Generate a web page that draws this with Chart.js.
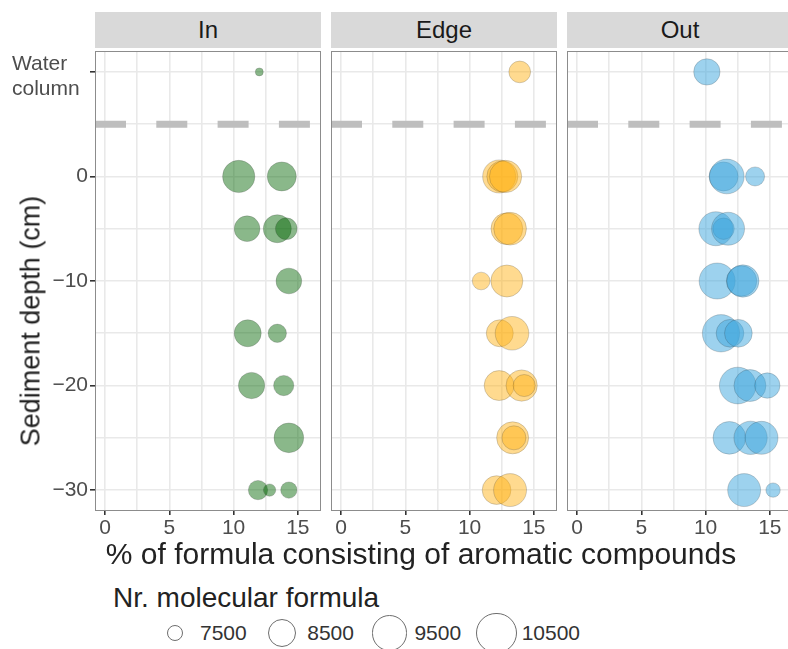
<!DOCTYPE html>
<html>
<head>
<meta charset="utf-8">
<title>Aromatic compounds by sediment depth</title>
<script src="https://cdn.jsdelivr.net/npm/chart.js@4.4.1/dist/chart.umd.min.js"></script>
<style>
  html, body { margin:0; padding:0; background:#fff; overflow:hidden; }
  body { width:788px; height:649px; position:relative; font-family:"Liberation Sans", Helvetica, Arial, sans-serif; }
  .strip { position:absolute; top:12px; height:36px; width:226px; background:#d9d9d9; color:#1a1a1a;
           font-size:24px; display:flex; align-items:center; justify-content:center; }
  .panel { position:absolute; top:31px; }
  .ytitle { position:absolute; left:31px; top:321px; transform:translate(-50%,-50%) rotate(-90deg);
            white-space:nowrap; font-size:27px; color:#222; }
  .xtitle { position:absolute; left:421px; top:554px; transform:translate(-50%,-50%);
            white-space:nowrap; font-size:30px; color:#222; }
  .water { position:absolute; left:12px; top:50px; font-size:21px; line-height:25px; color:#4d4d4d; }
  .legend-title { position:absolute; left:113px; top:598px; transform:translateY(-50%); font-size:28px; color:#222; white-space:nowrap; }
  #legendRow { position:absolute; left:153px; top:633px; transform:translateY(-50%); display:flex; align-items:center; gap:13.5px; }
  .lg-item { display:flex; align-items:center; }
  .lg-key { width:44px; height:44px; display:flex; align-items:center; justify-content:center; }
  .lg-key span { border:1.5px solid #6e6e6e; border-radius:50%; box-sizing:border-box; }
  .lg-label { margin-left:3px; font-size:21px; color:#333; }
</style>
</head>
<body>

<div class="strip" style="left:95px">In</div>
<div class="strip" style="left:331px">Edge</div>
<div class="strip" style="left:567px">Out</div>

<canvas class="panel" id="panel0" width="321" height="516" style="left:0px"></canvas>
<canvas class="panel" id="panel1" width="226" height="516" style="left:331px"></canvas>
<canvas class="panel" id="panel2" width="226" height="516" style="left:567px"></canvas>

<div class="water">Water<br>column</div>
<div class="ytitle">Sediment depth (cm)</div>
<div class="xtitle">% of formula consisting of aromatic compounds</div>
<div class="legend-title">Nr. molecular formula</div>
<div id="legendRow"></div>

<script>
const SITES = ['In', 'Edge', 'Out'];
const FILLS = ['rgba(0,100,0,0.46)', 'rgba(255,178,20,0.48)', 'rgba(60,165,222,0.5)'];

const WATER_COLUMN = 10;      // depth slot used for the water-column sample
const SEDIMENT_SURFACE = 5;   // dashed separator between water and sediment
const Y_LABELLED = [0, -10, -20, -30];
const X_LABELLED = [0, 5, 10, 15];
const LEGEND_BREAKS = [7500, 8500, 9500, 10500];

// In
const IN_DEPTH    = [10, 0, 0, -5, -5, -5, -10, -15, -15, -20, -20, -25, -30, -30, -30];
const IN_AROMATIC = [12.0, 10.4, 13.75, 11.05, 13.4, 14.1, 14.3, 11.1, 13.4, 11.4, 13.9, 14.3, 11.9, 12.8, 14.3];
const IN_FORMULAS = [7300, 9180, 8710, 8300, 8580, 7900, 8300, 8450, 7640, 8370, 7780, 8800, 7710, 7360, 7520];

// Edge
const EDGE_DEPTH    = [10, 0, 0, 0, -5, -5, -10, -10, -15, -15, -20, -20, -20, -25, -25, -30, -30];
const EDGE_AROMATIC = [13.9, 12.3, 12.55, 12.8, 12.9, 13.15, 10.9, 12.9, 12.35, 13.3, 12.3, 14.05, 14.25, 13.35, 13.45, 12.1, 13.15];
const EDGE_FORMULAS = [7900, 9300, 9000, 9180, 9100, 9250, 7600, 9140, 8450, 9400, 8840, 9030, 7930, 9140, 8120, 8670, 9290];

// Out
const OUT_DEPTH    = [10, 0, 0, 0, -5, -5, -5, -10, -10, -10, -15, -15, -15, -20, -20, -20, -25, -25, -25, -30, -30];
const OUT_AROMATIC = [10.1, 11.4, 11.65, 13.85, 10.8, 11.4, 11.75, 10.9, 12.8, 12.9, 11.2, 11.9, 12.55, 12.5, 13.45, 14.8, 11.85, 13.5, 14.35, 13.0, 15.25];
const OUT_FORMULAS = [8370, 8710, 9580, 7690, 9460, 7870, 9290, 9800, 8900, 9180, 10040, 8540, 8540, 9920, 9140, 8260, 9250, 9340, 9290, 9290, 7430];

const PANELS = [
  [IN_DEPTH, IN_AROMATIC, IN_FORMULAS],
  [EDGE_DEPTH, EDGE_AROMATIC, EDGE_FORMULAS],
  [OUT_DEPTH, OUT_AROMATIC, OUT_FORMULAS]
];

const X_MIN = -0.78, X_MAX = 16.8;
const Y_MIN = -32, Y_MAX = 12;

// area-style size scale: diameter grows with the square root of the count
const N_MIN = 7300, D_MIN = 9, D_PER_SQRT = 0.56;
function diameterFor(n) {
  return D_MIN + D_PER_SQRT * Math.sqrt(Math.max(n - N_MIN, 0));
}

const FONT = '"Liberation Sans", Helvetica, Arial, sans-serif';
const GRID = '#e9e9e9';
const TICK = '#333';

const panelBorder = {
  id: 'panelBorder',
  afterDraw(chart) {
    const { ctx, chartArea: a } = chart;
    ctx.save();
    ctx.strokeStyle = '#8c8c8c';
    ctx.lineWidth = 1;
    ctx.strokeRect(a.left + 0.5, a.top + 0.5, a.width - 1, a.height - 1);
    ctx.restore();
  }
};

function fmt(v) {
  return String(v).replace('-', '\u2212');
}

function makePanel(i) {
  const [depth, arom, nform] = PANELS[i];
  const first = i === 0;
  const bubbles = depth.map((d, k) => ({ x: arom[k], y: d, r: diameterFor(nform[k]) / 2 - 0.5 }));

  return new Chart(document.getElementById('panel' + i), {
    type: 'bubble',
    data: {
      datasets: [
        {
          type: 'line',
          data: [{ x: X_MIN, y: SEDIMENT_SURFACE }, { x: X_MAX, y: SEDIMENT_SURFACE }],
          borderColor: '#bebebe',
          borderWidth: 7,
          borderDash: [31, 30.3],
          pointRadius: 0,
          order: 2
        },
        {
          label: SITES[i],
          data: bubbles,
          backgroundColor: FILLS[i],
          borderColor: 'rgba(60,60,60,0.22)',
          borderWidth: 1,
          order: 1
        }
      ]
    },
    options: {
      responsive: false,
      animation: false,
      events: [],
      layout: { autoPadding: false, padding: { top: 20, left: 0, right: 0, bottom: 0 } },
      plugins: { legend: { display: false }, tooltip: { enabled: false } },
      scales: {
        x: {
          type: 'linear',
          min: X_MIN,
          max: X_MAX,
          afterFit: s => { s.height = 36; },
          border: { display: false },
          grid: {
            color: GRID,
            lineWidth: 1.6,
            tickLength: 4,
            tickColor: ctx => (ctx.tick && ctx.tick.value % 5 === 0 ? TICK : 'rgba(0,0,0,0)')
          },
          ticks: {
            stepSize: 2.5,
            includeBounds: false,
            autoSkip: false,
            maxRotation: 0,
            padding: 1,
            color: '#4d4d4d',
            font: { family: FONT, size: 21 },
            callback: v => (X_LABELLED.includes(v) ? String(v) : '')
          }
        },
        y: {
          type: 'linear',
          min: Y_MIN,
          max: Y_MAX,
          afterFit: s => { s.width = first ? 95 : 0; },
          border: { display: false },
          grid: {
            color: GRID,
            lineWidth: 1.6,
            drawTicks: first,
            tickLength: 5,
            tickColor: ctx => (ctx.tick && ctx.tick.value % 10 === 0 ? TICK : 'rgba(0,0,0,0)')
          },
          ticks: {
            display: first,
            stepSize: 5,
            includeBounds: false,
            autoSkip: false,
            padding: 2,
            color: '#4d4d4d',
            font: { family: FONT, size: 21 },
            callback: v => (Y_LABELLED.includes(v) ? fmt(v) : '')
          }
        }
      }
    },
    plugins: [panelBorder]
  });
}

function renderLegend() {
  const row = document.getElementById('legendRow');
  row.innerHTML = LEGEND_BREAKS.map(n => {
    const d = diameterFor(n).toFixed(1);
    return `<div class="lg-item"><div class="lg-key"><span style="width:${d}px;height:${d}px"></span></div><span class="lg-label">${n}</span></div>`;
  }).join('');
}

SITES.forEach((_, i) => makePanel(i));
renderLegend();
</script>
</body>
</html>
